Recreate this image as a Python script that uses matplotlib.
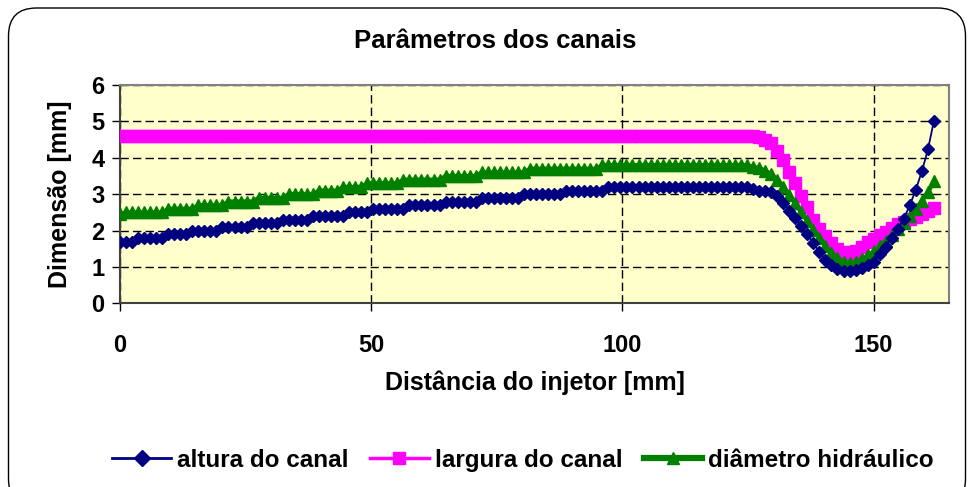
import numpy as np
import matplotlib.pyplot as plt
from matplotlib.patches import FancyBboxPatch
from matplotlib.lines import Line2D

plt.rcParams['font.family'] = ['Liberation Sans', 'DejaVu Sans']
plt.rcParams['font.weight'] = 'bold'

# estações ao longo do canal, passo de 1.2 mm
n_pontos = 136
distancia = np.round(np.arange(n_pontos) * 1.2, 1)

altura = ([1.7] * 3 + [1.8] * 5 + [1.9] * 4 + [2.0] * 5 + [2.1] * 5 + [2.2] * 5
          + [2.3] * 5 + [2.4] * 6 + [2.5] * 4 + [2.6] * 6 + [2.7] * 6 + [2.8] * 6
          + [2.9] * 7 + [3.0] * 7 + [3.1] * 7 + [3.2] * 24
          + [3.15, 3.1, 3.1, 3.05, 2.95, 2.75, 2.55, 2.35, 2.12, 1.9,
             1.65, 1.42, 1.2, 1.05, 0.95, 0.9, 0.9, 0.92, 0.97, 1.05,
             1.15, 1.35, 1.55, 1.8, 2.05, 2.33, 2.7, 3.13, 3.63, 4.23, 5.02])

largura = ([4.6] * 106
           + [4.57, 4.5, 4.4, 4.2, 3.95, 3.6, 3.3, 2.95, 2.65, 2.3,
              2.05, 1.85, 1.65, 1.5, 1.42, 1.4, 1.45, 1.55, 1.7, 1.78,
              1.88, 1.97, 2.07, 2.17, 2.25, 2.32, 2.38, 2.45, 2.55, 2.62])

diametro = ([2.45] + [2.5] * 7 + [2.6] * 5 + [2.7] * 5 + [2.8] * 5 + [2.9] * 5
            + [3.0] * 5 + [3.1] * 4 + [3.2] * 4 + [3.3] * 6 + [3.4] * 7 + [3.5] * 6
            + [3.6] * 8 + [3.7] * 12 + [3.8] * 25
            + [3.75, 3.72, 3.65, 3.55, 3.4, 3.2, 2.98, 2.75, 2.5, 2.27,
               2.03, 1.8, 1.58, 1.4, 1.25, 1.15, 1.12, 1.15, 1.22, 1.32,
               1.43, 1.57, 1.72, 1.88, 2.05, 2.22, 2.4, 2.6, 2.82, 3.05, 3.35])

nomes = ['altura do canal', 'largura do canal', 'diâmetro hidráulico']
cores = ['#000080', '#FF00FF', '#008000']

fig = plt.figure(figsize=(9.69, 4.87), dpi=100)
# moldura arredondada do gráfico (em polegadas p/ cantos circulares)
fig.patches.append(FancyBboxPatch((0.085, -0.2), 9.57, 4.99, boxstyle='round,pad=0,rounding_size=0.28',
                                  transform=fig.dpi_scale_trans, fill=False, edgecolor='black', linewidth=1))

ax = fig.add_axes([0.1238, 0.3768, 0.8556, 0.4487])
ax.set_facecolor('#FFFFCC')

ax.plot(distancia, largura, color=cores[1], marker='s', markersize=8.3, linewidth=1.5, label=nomes[1], zorder=3)
ax.plot(distancia, diametro, color=cores[2], marker='^', markersize=8.5, linewidth=3, label=nomes[2], zorder=4)
ax.plot(distancia, altura, color=cores[0], marker='D', markersize=6.3, linewidth=1.3, label=nomes[0], zorder=5)

ax.set_xlim(0, 165)
ax.set_ylim(0, 6)
ax.set_xticks([0, 50, 100, 150])
ax.set_yticks(range(7))
ax.grid(True, color='black', linestyle=(0, (6, 3)), linewidth=1)
ax.tick_params(direction='out', length=6, width=1, labelsize=17, pad=5)
ax.tick_params(axis='x', pad=16)
for s in ['top', 'right']:
    ax.spines[s].set_color('#808080')
    ax.spines[s].set_linewidth(1.5)
for s in ['left', 'bottom']:
    ax.spines[s].set_color('#404040')
    ax.spines[s].set_linewidth(1.5)

ax.set_xlabel('Distância do injetor [mm]', fontsize=18, fontweight='bold', labelpad=10)
ax.set_ylabel('Dimensão [mm]', fontsize=18, fontweight='bold', labelpad=14)
fig.text(0.511, 0.915, 'Parâmetros dos canais', ha='center', va='center', fontsize=18.5, fontweight='bold')

handles = [Line2D([], [], color=cores[0], marker='D', markersize=8, linewidth=2),
           Line2D([], [], color=cores[1], marker='s', markersize=8, linewidth=2.5),
           Line2D([], [], color=cores[2], marker='^', markersize=9, linewidth=4.5)]
fig.legend(handles, nomes, loc='center', bbox_to_anchor=(0.54, 0.055), ncol=3, frameon=False,
           prop={'size': 17.5, 'weight': 'bold'}, handlelength=2.4, handletextpad=0.25, columnspacing=0.9)

fig.savefig('out.png', dpi=100)
